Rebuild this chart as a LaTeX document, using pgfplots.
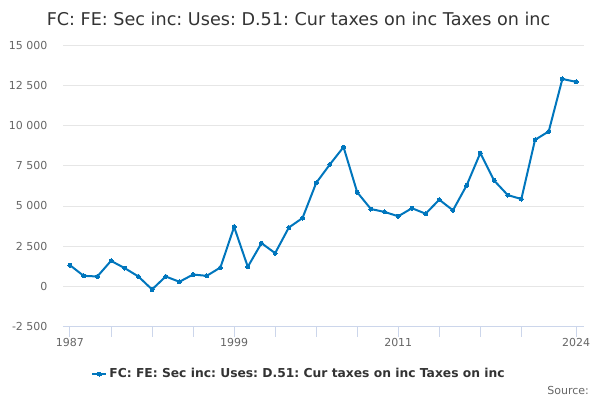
\documentclass[border=0pt]{standalone}
\usepackage{pgfplots}
\pgfplotsset{compat=1.18}
\usepackage{fontspec}
\setmainfont{DejaVu Sans}
\frenchspacing
\definecolor{lineblue}{HTML}{0076BD}
\definecolor{gridgray}{HTML}{E6E6E6}
\definecolor{axisblue}{HTML}{CCD6EB}
\definecolor{labelgray}{HTML}{666666}
\definecolor{titlegray}{HTML}{333333}
\begin{document}
\begin{tikzpicture}[x=1pt,y=1pt]
\path[use as bounding box] (0,0) rectangle (600,400);
\node[text=titlegray, font=\fontsize{17.6}{20}\selectfont] at (298.5,381) {FC: FE: Sec inc: Uses: D.51: Cur taxes on inc Taxes on inc};
\node[text=labelgray, font=\fontsize{11}{13}\selectfont, anchor=east, inner sep=0pt] at (589,10) {Source:};
\begin{axis}[
  at={(63pt,73.3pt)}, anchor=south west,
  scale only axis, width=521pt, height=281.7pt,
  xmin=1986.49, xmax=2024.58,
  ymin=-2500, ymax=15000,
  ytick={-2500,0,2500,5000,7500,10000,12500,15000},
  xtick={1987,1990,1993,1996,1999,2002,2005,2008,2011,2014,2017,2020,2024},
  xticklabels={1987,,,,1999,,,,2011,,,,2024},
  axis x line*=bottom, axis y line*=left,
  y axis line style={draw=none},
  x axis line style={draw=axisblue, line width=1pt},
  ymajorgrids, grid style={gridgray, line width=0.8pt},
  tick align=outside,
  xtick style={draw=axisblue, line width=1pt},
  major tick length=10pt,
  ytick style={draw=none},
  /pgf/number format/assume math mode=true,
  /pgf/number format/1000 sep={\ },
  scaled y ticks=false,
  ticklabel style={text=labelgray, font=\fontsize{11}{13}\selectfont},
  yticklabel style={anchor=east, xshift=-2pt},
  xticklabel style={yshift=2pt},
  legend style={at={(0.453,-0.168)}, anchor=center, draw=none, fill=none,
    font=\bfseries\fontsize{12.3}{14}\selectfont, text=titlegray,
    legend cell align=left},
  legend image code/.code={\draw[mark repeat=2,mark phase=2] plot coordinates {(0pt,0pt)(7pt,0pt)(14pt,0pt)};},
]
\addplot[lineblue, line width=2pt, mark=*, mark size=2pt, mark options={line width=0pt}] coordinates {
(1987,1320)(1988,660)(1989,620)(1990,1590)(1991,1140)(1992,620)(1993,-186)(1994,620)(1995,290)(1996,740)(1997,660)(1998,1180)(1999,3700)(2000,1220)(2001,2690)(2002,2070)(2003,3660)(2004,4250)(2005,6430)(2006,7580)(2007,8660)(2008,5850)(2009,4810)(2010,4630)(2011,4360)(2012,4860)(2013,4520)(2014,5390)(2015,4730)(2016,6280)(2017,8290)(2018,6590)(2019,5680)(2020,5430)(2021,9110)(2022,9630)(2023,12890)(2024,12710)
};
\addlegendentry{FC: FE: Sec inc: Uses: D.51: Cur taxes on inc Taxes on inc}
\end{axis}
\end{tikzpicture}
\end{document}
